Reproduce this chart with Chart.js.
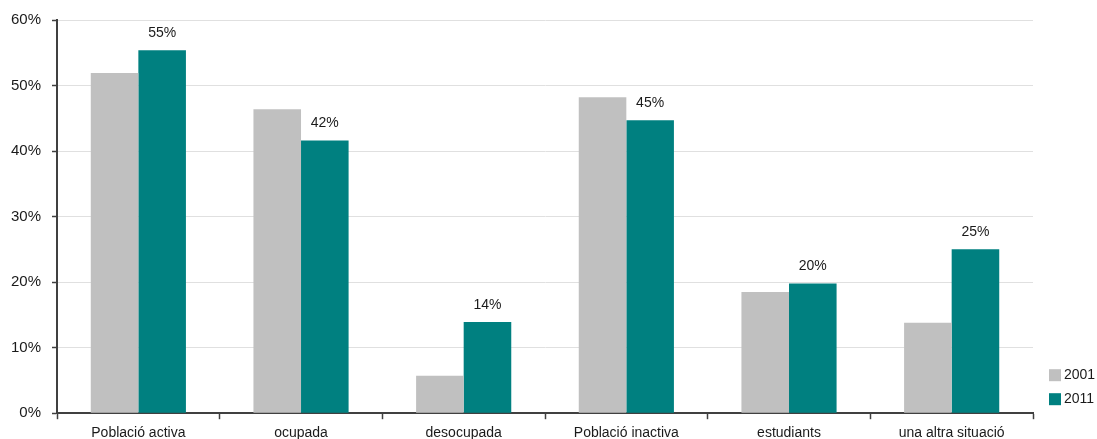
<!DOCTYPE html>
<html lang="ca">
<head>
  <meta charset="UTF-8" />
  <title>Població segons relació amb l'activitat</title>
  <script src="https://cdn.jsdelivr.net/npm/chart.js"></script>
  <style>
    html, body { margin: 0; padding: 0; background: #fff; }
    #wrap { width: 1097px; height: 439px; position: relative; }
  </style>
</head>
<body>
  <div id="wrap"><canvas id="chart"></canvas></div>

  <script>
    const categories = ['Població activa', 'ocupada', 'desocupada', 'Població inactiva', 'estudiants', 'una altra situació'];
    const values2001 = [51.9, 46.4, 5.7, 48.2, 18.5, 13.8];
    const values2011 = [55.4, 41.6, 13.9, 44.7, 19.8, 25.0];
    const yTicks = [0, 10, 20, 30, 40, 50, 60];

    const FONT = '"Liberation Sans", Arial, sans-serif';

    // etiquetes de valor sobre les barres del 2011
    const valueLabels = {
      id: 'valueLabels',
      afterDatasetsDraw(chart) {
        const ctx = chart.ctx;
        const meta = chart.getDatasetMeta(1);
        ctx.save();
        ctx.font = '14px ' + FONT;
        ctx.fillStyle = '#1a1a1a';
        ctx.textAlign = 'center';
        ctx.textBaseline = 'bottom';
        meta.data.forEach((bar, i) => {
          ctx.fillText(Math.round(values2011[i]) + '%', bar.x, bar.y - 10);
        });
        ctx.restore();
      }
    };

    // llegenda a la dreta, a baix
    const sideLegend = {
      id: 'sideLegend',
      afterDraw(chart) {
        const ctx = chart.ctx;
        const area = chart.chartArea;
        ctx.save();
        ctx.font = '14px ' + FONT;
        ctx.textBaseline = 'middle';
        chart.data.datasets.forEach((ds, i) => {
          const y = area.bottom - 38 + i * 24;
          ctx.fillStyle = ds.backgroundColor;
          ctx.fillRect(area.right + 16, y - 6, 12, 12);
          ctx.fillStyle = '#1a1a1a';
          ctx.fillText(ds.label, area.right + 31, y);
        });
        ctx.restore();
      }
    };

    new Chart(document.getElementById('chart'), {
      type: 'bar',
      data: {
        labels: categories,
        datasets: [
          { label: '2001', data: values2001, backgroundColor: '#c0c0c0' },
          { label: '2011', data: values2011, backgroundColor: '#008080' }
        ]
      },
      options: {
        responsive: true,
        maintainAspectRatio: false,
        animation: false,
        datasets: { bar: { barPercentage: 1, categoryPercentage: 0.585 } },
        layout: { padding: { left: 0, top: 12, right: 64, bottom: -9 } },
        plugins: {
          legend: { display: false },
          tooltip: { enabled: false }
        },
        scales: {
          x: {
            offset: true,
            grid: { offset: true, drawOnChartArea: false, tickLength: 6, tickColor: '#404040', tickWidth: 1.5 },
            border: { color: '#404040', width: 2 },
            ticks: {
              padding: 6,
              color: '#1a1a1a',
              maxRotation: 0,
              font: { family: FONT, size: 14 }
            }
          },
          y: {
            min: 0,
            max: 60,
            afterBuildTicks(axis) { axis.ticks = yTicks.map(v => ({ value: v })); },
            grid: { color: '#e0e0e0', tickLength: 5, tickColor: '#404040', tickWidth: 1.5 },
            border: { color: '#404040', width: 2 },
            ticks: {
              padding: 11,
              color: '#1a1a1a',
              callback: v => v + '%',
              font: { family: FONT, size: 15 }
            }
          }
        }
      },
      plugins: [valueLabels, sideLegend]
    });
  </script>
</body>
</html>
